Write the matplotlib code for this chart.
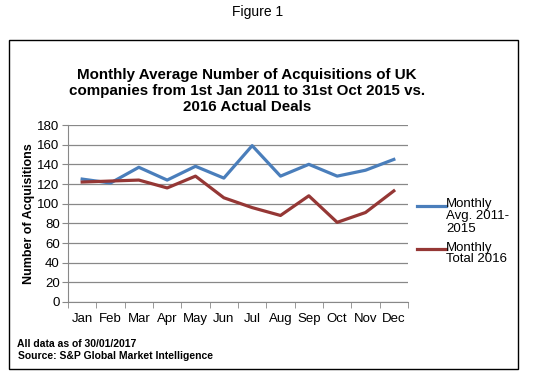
import numpy as np
import matplotlib.pyplot as plt
from matplotlib.lines import Line2D
from matplotlib.patches import Rectangle

plt.rcParams['font.family'] = ['Liberation Sans', 'DejaVu Sans']

months = ['Jan', 'Feb', 'Mar', 'Apr', 'May', 'Jun', 'Jul', 'Aug', 'Sep', 'Oct', 'Nov', 'Dec']
avg_2011_2015 = [125, 121, 137, 124, 138, 126, 159, 128, 140, 128, 134, 145]
total_2016 = [122, 123, 124, 116, 128, 106, 96, 88, 108, 81, 91, 113]

blue = '#4a7ebb'
red = '#953735'

W, H = 535, 383
fig = plt.figure(figsize=(W / 100, H / 100), dpi=100)
fig.text(258 / W, 1 - 12 / H, 'Figure 1', ha='center', va='center', fontsize=10)

# outer frame
fig.patches.append(Rectangle((9 / W, 1 - 369 / H), 509 / W, 329 / H,
                             transform=fig.transFigure, fill=False, ec='black', lw=1))

ax = fig.add_axes([68 / W, 1 - 302 / H, 340 / W, 177 / H])
x = np.arange(len(months))
ax.plot(x, avg_2011_2015, color=blue, lw=2.3)
ax.plot(x, total_2016, color=red, lw=2.3)

ax.set_xlim(-0.5, 11.5)
ax.set_ylim(0, 180)
ax.set_yticks(range(0, 181, 20))
ax.set_xticks(x)
ax.set_xticklabels(months)
ax.set_xticks(np.arange(-0.5, 12, 1), minor=True)
ax.tick_params(axis='x', which='major', length=0, labelsize=9.5, pad=8)
ax.tick_params(axis='x', which='minor', length=4, color='#888888')
ax.tick_params(axis='y', length=4, color='#888888', labelsize=9.5, pad=2)
ax.grid(axis='y', color='#888888', lw=0.9)
ax.set_axisbelow(True)
for s in ['top', 'right']:
    ax.spines[s].set_visible(False)
for s in ['left', 'bottom']:
    ax.spines[s].set_color('#888888')
ax.set_ylabel('Number of Acquisitions', fontsize=9, fontweight='bold', labelpad=2)

fig.text(247 / W, 1 - 91 / H,
         'Monthly Average Number of Acquisitions of UK\n'
         'companies from 1st Jan 2011 to 31st Oct 2015 vs.\n2016 Actual Deals',
         ha='center', va='center', multialignment='center',
         fontsize=10.9, fontweight='bold', linespacing=1.22)

# legend: handle aligned with the first text line of each entry
legend_items = [(blue, 'Monthly\nAvg. 2011-\n2015', 206), (red, 'Monthly\nTotal 2016', 249)]
for color, label, yy in legend_items:
    fig.add_artist(Line2D([417 / W, 446 / W], [1 - yy / H, 1 - yy / H],
                          color=color, lw=2.3, transform=fig.transFigure))
    fig.text(446 / W, 1 - (yy - 7.5) / H, label, fontsize=9.5, va='top', ha='left',
             linespacing=1.0)

fig.text(17 / W, 1 - 344 / H, 'All data as of 30/01/2017', fontsize=7.5,
         fontweight='bold', va='center')
fig.text(18 / W, 1 - 356 / H, 'Source: S&P Global Market Intelligence', fontsize=7.5,
         fontweight='bold', va='center')

fig.savefig('out.png', dpi=100)
